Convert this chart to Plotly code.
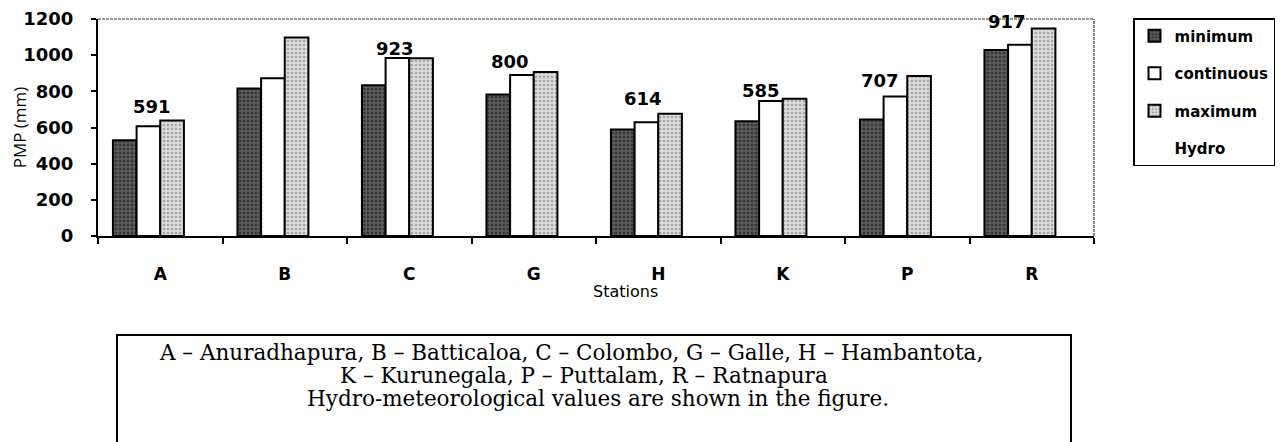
import plotly.graph_objects as go

stations = ["A", "B", "C", "G", "H", "K", "P", "R"]
minimum = [529, 815, 833, 783, 589, 635, 644, 1028]
continuous = [607, 872, 985, 891, 629, 746, 771, 1057]
maximum = [639, 1098, 983, 907, 676, 759, 885, 1148]
hydro = [591, None, 923, 800, 614, 585, 707, 917]
y_ticks = [0, 200, 400, 600, 800, 1000, 1200]
caption_lines = [
    "A – Anuradhapura, B – Batticaloa, C – Colombo, G – Galle, H – Hambantota,",
    "K – Kurunegala, P – Puttalam, R – Ratnapura",
    "Hydro-meteorological values are shown in the figure.",
]

# pixel offsets of the hydro labels relative to the "continuous" bar top / station centre
label_lift = [20, 0, 9, 13, 24, 11, 16, 23]
label_shift = [-8, 0, -14, -24, -15, -22, -27, -25]

# page body has an 8px margin; work in screenshot pixels and convert
O = 8
W, H = 1288 - O, 442 - O
L, R, T, B = 98 - O, 1094 - O, 19 - O, 236 - O


def px_x(p):
    return (p - O - L) / (R - L)


def px_y(p):
    return (B - (p - O)) / (B - T)


fig = go.Figure()
common_line = dict(color="black", width=2)
fig.add_trace(go.Bar(
    name="minimum", x=stations, y=minimum, legendgroup="g1",
    marker=dict(color="#4a4a4a", line=common_line,
                pattern=dict(shape=".", fgcolor="#111111", bgcolor="#5e5e5e", size=4, solidity=0.45)),
))
fig.add_trace(go.Bar(
    name="continuous", x=stations, y=continuous, legendgroup="g2",
    marker=dict(color="white", line=common_line),
))
fig.add_trace(go.Bar(
    name="maximum", x=stations, y=maximum, legendgroup="g3",
    marker=dict(color="#cfcfcf", line=common_line,
                pattern=dict(shape=".", fgcolor="#707070", bgcolor="#dcdcdc", size=4, solidity=0.35)),
))
fig.add_trace(go.Bar(
    name="Hydro", x=stations, y=hydro, legendgroup="g4",
    marker=dict(color="rgba(0,0,0,0)", line=dict(width=0)),
    hoverinfo="x+y",
))

annotations = []
for s, c, h, lift, shift in zip(stations, continuous, hydro, label_lift, label_shift):
    if h is None:
        continue
    annotations.append(dict(
        x=s, y=c, xref="x", yref="y", text=str(h), showarrow=False,
        xshift=shift, yshift=lift, yanchor="middle", xanchor="center",
        font=dict(family="DejaVu Sans", size=18, color="black", weight="bold"),
    ))

annotations.append(dict(
    x=px_x(625), y=px_y(291), xref="paper", yref="paper", text="Stations", showarrow=False,
    xanchor="center", yanchor="middle",
    font=dict(family="DejaVu Sans", size=16, color="black"),
))

for line_text, cx, cy in zip(caption_lines, [571, 584, 598], [352, 375, 398]):
    annotations.append(dict(
        x=px_x(cx), y=px_y(cy), xref="paper", yref="paper",
        text=line_text, showarrow=False, xanchor="center", yanchor="middle",
        font=dict(family="DejaVu Serif", size=21.5, color="black"),
    ))

shapes = [
    dict(type="line", xref="paper", yref="paper", x0=0, x1=1, y0=1, y1=1,
         line=dict(color="#333333", width=1.2, dash="3px,1px")),
    dict(type="line", xref="paper", yref="paper", x0=1, x1=1, y0=0, y1=1,
         line=dict(color="#333333", width=1.2, dash="3px,1px")),
    dict(type="rect", xref="paper", yref="paper", x0=px_x(117), x1=px_x(1071),
         y0=px_y(446), y1=px_y(335), line=dict(color="black", width=2), fillcolor="rgba(0,0,0,0)"),
]

fig.update_layout(
    width=W, height=H,
    margin=dict(l=L, r=W - R, t=T, b=H - B, autoexpand=False),
    paper_bgcolor="white", plot_bgcolor="white",
    barmode="group", bargap=0.24, bargroupgap=0,
    showlegend=True,
    legend=dict(
        x=px_x(1133), y=px_y(18), xanchor="left", yanchor="top",
        bordercolor="black", borderwidth=1.5, bgcolor="white",
        font=dict(family="DejaVu Sans", size=15, color="black", weight="bold"),
        tracegroupgap=15, itemsizing="constant", itemwidth=30,
    ),
    xaxis=dict(
        automargin=False,
        showline=True, linecolor="black", linewidth=2, ticks="outside", tickson="boundaries",
        ticklen=6, tickwidth=2, tickcolor="black", showgrid=False, ticklabelstandoff=22,
        tickfont=dict(family="DejaVu Sans", size=17, color="black", weight="bold"),
    ),
    yaxis=dict(
        automargin=False,
        range=[0, 1200], tickvals=y_ticks, showline=True, linecolor="black", linewidth=2,
        ticks="outside", ticklen=5, tickwidth=2, tickcolor="black", showgrid=False,
        ticklabelstandoff=14,
        tickfont=dict(family="DejaVu Sans", size=18, color="black", weight="bold"),
        title=dict(text="PMP (mm)", font=dict(family="Open Sans", size=17, color="black"), standoff=4),
    ),
    annotations=annotations,
    shapes=shapes,
)

fig.write_html("out.html")
